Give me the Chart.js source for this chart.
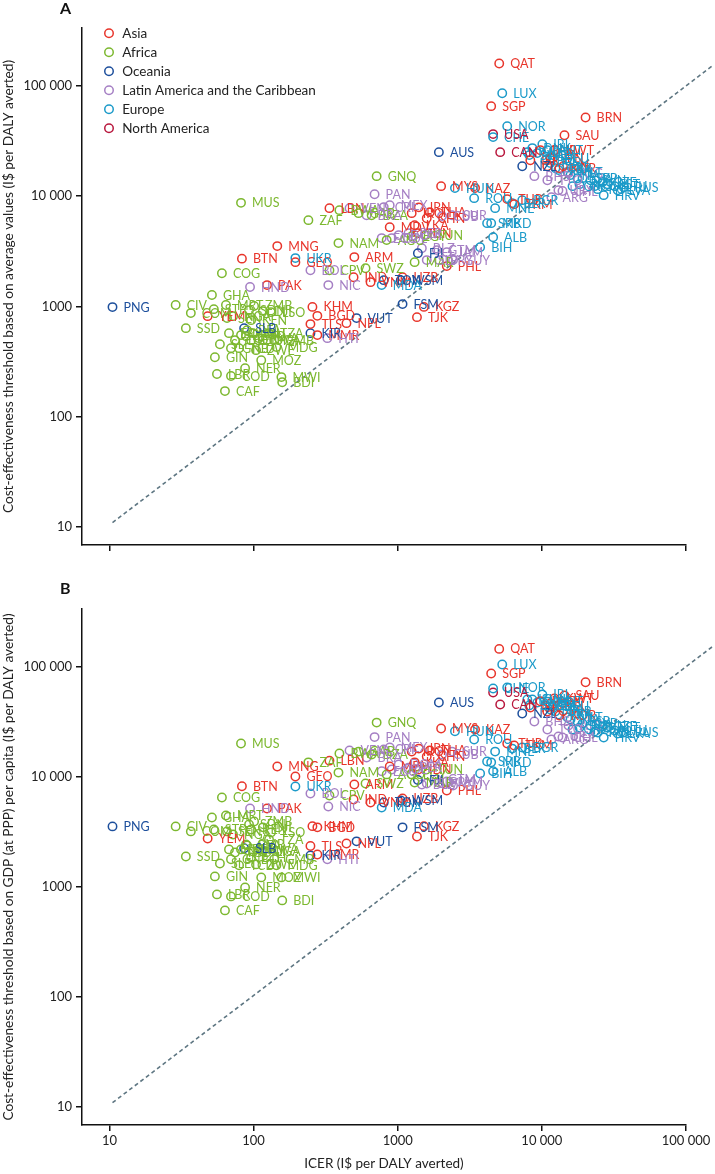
<!DOCTYPE html>
<html><head><meta charset="utf-8">
<script src="https://cdn.jsdelivr.net/npm/chart.js@4.4.1/dist/chart.umd.min.js"></script>
<style>
html,body{margin:0;padding:0;background:#fff;}
#wrap{position:relative;width:715px;height:1174px;overflow:hidden;}
.panel{position:absolute;left:0;width:715px;}
#pa{top:0;height:575px;}
#pb{top:580px;height:594px;}
.tag{position:absolute;left:60px;font:bold 16px Lato, sans-serif;color:#111;line-height:20px;}
</style></head><body>
<div id="wrap">
<div class="panel" id="pa"><canvas id="ca" width="715" height="575"></canvas></div>
<div class="panel" id="pb"><canvas id="cb" width="715" height="594"></canvas></div>
<div class="tag" style="top:-2px">A</div>
<div class="tag" style="top:578px">B</div>
</div>
<script>
// ---------- DATA ----------
const tickValues = [10, 100, 1000, 10000, 100000];
const regionNames = ['Asia','Africa','Oceania','Latin America and the Caribbean','Europe','North America'];

const asiaCodes = ['QAT','SGP','BRN','SAU','KWT','BHR','JPN','ISR','OMN','KOR','MYS','KAZ','TUR','TKM','IRN','LBN','THA','IRQ','CHN','LKA','MDV','IDN','MNG','GEO','ARM','BTN','PHL','IND','UZB','VNM','PAK','KGZ','KHM','TJK','YEM','BGD','NPL','TLS','MMR'];
const asiaIcer  = [5060,4450,20100,14350,12220,9770,11460,8320,10900,13240,2000,3440,5750,6430,1400,336,1670,1250,1590,1310,880,1380,146,195,500,83,2190,494,1080,648,124,1520,256,1360,48,277,441,248,277];
const asiaAvg   = [158900,65200,51500,35600,26000,26000,22000,21100,18650,17900,12300,11800,9380,8450,7900,7770,7150,7000,6300,5450,5230,4610,3520,2520,2800,2710,2320,1840,1840,1660,1560,990,990,800,817,822,706,692,550];
const asiaGdp   = [144700,86400,72000,54600,51300,48500,46200,42500,39100,35900,27400,26800,20000,19200,18000,14000,17300,16900,15300,13500,12400,11600,12400,10050,8500,8200,7500,6220,6350,5840,5150,3560,3560,2870,2750,3470,2480,2350,1970];

const africaCodes = ['GNQ','MUS','ZAF','BWA','DZA','GAB','NAM','TUN','EGY','AGO','MAR','SWZ','CPV','COG','GHA','MRT','CIV','COM','STP','SEN','NGA','SSD','ZMB','KEN','LSO','DJI','SDN','CMR','TZA','MWI','BDI','MOZ','NER','GIN','LBR','COD','CAF','SLE','MDG','ETH','UGA','RWA','BEN','TGO','BFA','MLI','GMB','GNB','ZWE','ERI','TCD'];
const africaIcer  = [714,81.8,240,394,659,535,388,1570,1250,838,1310,598,336,60.3,51.4,64.3,28.8,36.7,53,65.4,72,33.9,100.8,96.1,132,116,93,88.6,128,156,158,113,87.3,53.9,55.7,69.7,63.3,58.4,144,96.1,116,109,81.8,74.3,90.1,99.2,139,69.7,104,67.5,79.3];
const africaAvg   = [15150,8680,6050,7450,6710,7000,3750,4430,4330,3990,2520,2220,2130,2000,1270,1030,1030,870,945,784,817,636,1010,751,888,907,926,538,573,229,206,326,276,347,244,234,171,455,428,495,495,516,550,495,610,573,495,419,402,573,419];
const africaGdp   = [31000,20000,13500,16250,15900,16900,10900,11600,10500,10500,8870,8690,6760,6480,4270,4450,3540,3190,3320,3190,2990,1890,3930,3320,3120,3470,3690,2430,2700,1220,754,1220,990,1245,855,820,612,1630,1570,1850,2100,2190,2190,2055,2380,2100,1780,1780,1600,2190,1570];

const oceaniaCodes = ['PNG','AUS','NZL','FJI','WSM','TON','VUT','KIR','FSM','SLB'];
const oceaniaIcer  = [10.5,1930,7310,1380,1050,800,518,248,1080,86];
const oceaniaAvg   = [986,25000,18650,3040,1730,1730,784,573,1050,636];
const oceaniaGdp   = [3540,47200,37500,9340,6090,5840,2590,1930,3470,2240];

const latamCodes = ['PAN','MEX','VEN','CRI','BRA','CUB','SUR','COL','DOM','PER','ECU','GTM','BLZ','SLV','PRY','JAM','GUY','ARG','URY','CHL','ATG','TTO','BHS','HND','NIC','BOL','HTI'];
const latamIcer  = [691,880,463,800,608,2030,2380,908,1016,1188,774,1870,1470,1590,1930,2190,2420,11650,13030,13900,15300,10920,8870,94.5,330,248,325];
const latamAvg   = [10400,8270,7770,7940,6710,6580,6710,4160,4430,4610,4160,3240,3370,2630,2630,3100,2630,9770,11300,11100,16100,13900,15150,1500,1560,2130,516];
const latamGdp   = [22900,18400,17300,17700,14950,15900,16900,11640,12900,12100,11200,9440,8500,8690,8870,9060,8330,21800,23200,22700,29200,26800,31700,5150,5370,7050,1780];

const europeCodes = ['LUX','NOR','CHE','IRL','DNK','NLD','AUT','SWE','DEU','BEL','FIN','ISL','GBR','FRA','ITA','ESP','MLT','CYP','SVN','CZE','PRT','GRC','EST','SVK','LTU','LVA','POL','HUN','RUS','HRV','ROU','BLR','BGR','MNE','SRB','MKD','ALB','BIH','UKR','MDA'];
const europeIcer  = [5310,5750,4590,10080,8590,9300,10920,8180,11830,10580,11460,7930,12420,13030,15810,17670,15060,19150,21780,26410,18240,16320,28610,23220,32000,33590,24370,2495,37000,26850,3390,6230,7310,4740,4170,4450,4590,3730,195,774];
const europeAvg   = [85500,43000,34200,29500,27200,24500,26000,23500,22000,21100,19900,25000,17900,17200,15500,14500,16500,14500,13900,13400,12800,12300,12800,12300,12300,11300,11550,11800,12040,10190,9570,8620,9180,7770,5680,5680,4240,3440,2740,1560];
const europeGdp   = [104300,64500,63200,55700,50200,47200,48100,44300,43400,44300,40700,50200,39100,36700,33100,31700,34500,30400,29200,28600,28000,26800,28000,25700,26300,24700,25200,25900,25200,22700,21800,18000,18400,16900,13750,13500,11200,10700,8160,5260];

const namCodes = ['USA','CAN'];
const namIcer  = [4590,5140];
const namAvg   = [36400,25000];
const namGdp   = [58100,45200];

// reference (dashed) line end points: ICER vs threshold
const refLineIcer = [10.5, 154000];
const refLineThr  = [11, 153000];

// ---------- STYLE ----------
const colors = ['#e8352b','#7cb82f','#1d4f9c','#a57fc4','#1b9ac9','#b8173d'];
const FONT = 'Lato';
Chart.defaults.font.family = FONT;
Chart.defaults.color = '#222';

const regions = [
  {codes: asiaCodes, icer: asiaIcer, avg: asiaAvg, gdp: asiaGdp},
  {codes: africaCodes, icer: africaIcer, avg: africaAvg, gdp: africaGdp},
  {codes: oceaniaCodes, icer: oceaniaIcer, avg: oceaniaAvg, gdp: oceaniaGdp},
  {codes: latamCodes, icer: latamIcer, avg: latamAvg, gdp: latamGdp},
  {codes: europeCodes, icer: europeIcer, avg: europeAvg, gdp: europeGdp},
  {codes: namCodes, icer: namIcer, avg: namAvg, gdp: namGdp}
];

function fmt(v){ return v >= 10000 ? String(v).replace(/\B(?=(\d{3})+(?!\d))/g, ' ') : String(v); }

function buildDatasets(key){
  const ds = regions.map((r, i) => ({
    label: regionNames[i],
    codes: r.codes,
    data: r.icer.map((x, j) => ({x: x, y: r[key][j]})),
    borderColor: colors[i],
    backgroundColor: 'rgba(0,0,0,0)',
    pointRadius: 4.2,
    pointHoverRadius: 4.2,
    borderWidth: 1.5,
    pointStyle: 'circle'
  }));
  ds.push({
    label: 'line',
    type: 'line',
    data: refLineIcer.map((x, j) => ({x: x, y: refLineThr[j]})),
    borderColor: '#5e7682',
    borderWidth: 1.6,
    borderDash: [4, 3],
    pointRadius: 0,
    fill: false,
    clip: false,
    order: 10
  });
  return ds;
}

const labelPlugin = {
  id: 'pointLabels',
  afterDatasetsDraw(chart){
    const ctx = chart.ctx;
    ctx.save();
    ctx.font = '12.5px ' + FONT;
    ctx.textBaseline = 'middle';
    ctx.textAlign = 'left';
    chart.data.datasets.forEach((ds, i) => {
      if (!ds.codes) return;
      const meta = chart.getDatasetMeta(i);
      ctx.fillStyle = ds.borderColor;
      meta.data.forEach((pt, j) => { ctx.fillText(ds.codes[j], pt.x + 11, pt.y + 0.5); });
    });
    ctx.restore();
  }
};

// place the (chart-area) legend at the top-left like the original
const LEG_X = 109, LEG_Y = 33;
function placeLegend(chart){
  const lg = chart.legend;
  if (!lg || !chart.options.plugins.legend.display) return;
  const pad = 5.5, bw = 13, half = 6.5;
  const w = lg.width, h = lg.height;
  lg.left = LEG_X - bw / 2 - pad;
  lg.top = LEG_Y - half - pad;
  lg.right = lg.left + Math.max(w, 260);
  lg.bottom = lg.top + 140;
  lg.width = lg.right - lg.left;
  lg.height = 140;
}
const legendPlace = {
  id: 'legendPlace',
  afterLayout(chart){ placeLegend(chart); },
  beforeDraw(chart){ placeLegend(chart); }
};

const Y_MIN = 6.9, Y_MAX = 333000, X_MIN = 6.45, X_MAX = 100000;

function yAxis(title){
  return {
    type: 'logarithmic', min: Y_MIN, max: Y_MAX,
    border: {display: true, color: '#111', width: 1.5},
    grid: {display: true, drawOnChartArea: false, drawTicks: true, tickLength: 6, color: '#111', lineWidth: 1.5},
    ticks: {padding: 4, color: '#222', font: {family: FONT, size: 13}, callback: v => fmt(v), autoSkip: false},
    afterBuildTicks: s => { s.ticks = tickValues.map(v => ({value: v})); },
    afterFit: s => { s.width = 82; },
    title: {display: true, text: title, font: {family: FONT, size: 13.7}, color: '#222', padding: {top: 0, bottom: 0}}
  };
}
function xAxis(showLabels, h){
  return {
    type: 'logarithmic', min: X_MIN, max: X_MAX,
    border: {display: true, color: '#111', width: 1.5},
    grid: {display: true, drawOnChartArea: false, drawTicks: true, tickLength: 6, color: '#111', lineWidth: 1.5},
    ticks: {display: showLabels, padding: 2, color: '#222', font: {family: FONT, size: 13}, callback: v => fmt(v), autoSkip: false, maxRotation: 0},
    afterBuildTicks: s => { s.ticks = tickValues.map(v => ({value: v})); },
    afterFit: s => { s.height = h; },
    title: {display: showLabels, text: 'ICER (I$ per DALY averted)', font: {family: FONT, size: 13.5}, color: '#222', padding: {top: 0, bottom: 2}}
  };
}

function makeChart(id, key, ytitle, withLegend, xh, padTop){
  return new Chart(document.getElementById(id), {
    type: 'scatter',
    data: {datasets: buildDatasets(key)},
    options: {
      responsive: false,
      animation: false,
      events: [],
      layout: {padding: {top: padTop, right: 29, left: 0, bottom: 0}},
      scales: {x: xAxis(!withLegend, xh), y: yAxis(ytitle)},
      plugins: {
        tooltip: {enabled: false},
        legend: {
          display: withLegend,
          position: 'chartArea',
          align: 'start',
          labels: {
            usePointStyle: true, pointStyle: 'circle', boxWidth: 13, boxHeight: 6, padding: 5.5,
            font: {family: FONT, size: 13.5}, color: '#222',
            filter: item => item.text !== 'line'
          }
        }
      }
    },
    plugins: [labelPlugin, legendPlace]
  });
}

makeChart('ca', 'avg', 'Cost-effectiveness threshold based on average values (I$ per DALY averted)', true, 30, 28);
makeChart('cb', 'gdp', 'Cost-effectiveness threshold based on GDP (at PPP) per capita (I$ per DALY averted)', false, 49, 29);
</script>
</body></html>
